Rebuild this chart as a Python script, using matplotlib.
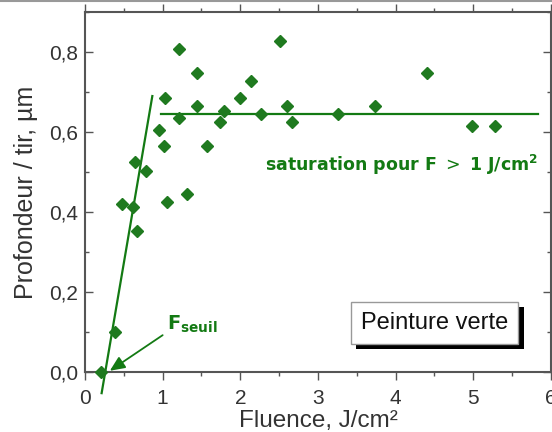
import numpy as np
import matplotlib
matplotlib.use("Agg")
import matplotlib.pyplot as plt
import matplotlib.patheffects as pe
from matplotlib.lines import Line2D
from matplotlib.ticker import MultipleLocator, FuncFormatter

# points mesures (fluence J/cm2, profondeur um)
fluence = [0.20, 0.38, 0.48, 0.62, 0.65, 0.67, 0.79, 0.95, 1.02, 1.03, 1.05,
           1.21, 1.21, 1.31, 1.44, 1.44, 1.57, 1.74, 1.79, 1.99, 2.14, 2.27,
           2.51, 2.60, 2.66, 3.26, 3.74, 4.41, 4.98, 5.28]
profondeur = [0.00, 0.10, 0.42, 0.413, 0.524, 0.353, 0.503, 0.605, 0.566, 0.686, 0.425,
              0.807, 0.635, 0.445, 0.748, 0.666, 0.565, 0.625, 0.652, 0.686, 0.727, 0.645,
              0.827, 0.666, 0.625, 0.646, 0.666, 0.747, 0.615, 0.615]

# droites tracees a la main
montee_x = [0.214, 0.867]
montee_y = [-0.053, 0.69]
sat_x = [0.974, 5.83]
sat_y = [0.645, 0.645]

vert = '#137a13'
gris = '#333333'

plt.rcParams['font.family'] = ['Liberation Sans', 'DejaVu Sans']

fig = plt.figure(figsize=(5.52, 4.32), dpi=100)
ax = fig.add_axes([0.154, 0.139, 0.844, 0.833])

ax.plot(fluence, profondeur, 'D', color='#1f7a1f', markersize=6.5, clip_on=False, zorder=3)
ax.plot(montee_x, montee_y, color=vert, lw=1.6, clip_on=False)
ax.plot(sat_x, sat_y, color=vert, lw=1.6)

ax.set_xlim(0, 6)
ax.set_ylim(0, 0.9)
ax.xaxis.set_major_locator(MultipleLocator(1))
ax.xaxis.set_minor_locator(MultipleLocator(0.5))
ax.yaxis.set_major_locator(MultipleLocator(0.2))
ax.yaxis.set_minor_locator(MultipleLocator(0.1))
ax.yaxis.set_major_formatter(FuncFormatter(lambda v, p: ('%.1f' % v).replace('.', ',')))

ax.tick_params(axis='y', which='both', direction='in', right=True, labelsize=15, labelcolor=gris, pad=5)
ax.tick_params(axis='x', which='both', direction='out', labelsize=15, labelcolor=gris, pad=6)
ax.tick_params(which='major', length=6, width=1, color='#555555')
ax.tick_params(which='minor', length=3, width=1, color='#555555')
ax.tick_params(axis='x', which='both', top=True)
for s in ax.spines.values():
    s.set_color('#555555')
    s.set_linewidth(1.5)

ax.set_xlabel('Fluence, J/cm²', fontsize=17.5, color=gris, labelpad=2)
ax.set_ylabel('Profondeur / tir, µm', fontsize=18, color=gris, labelpad=8)

ax.text(2.32, 0.517, r'saturation pour F $>$ 1 J/cm$^{\mathbf{2}}$', color=vert,
        fontsize=12.5, fontweight='bold', family='DejaVu Sans', va='center')

ax.annotate('', xy=(0.32, 0.003), xytext=(1.0, 0.092),
            arrowprops=dict(arrowstyle='-|>,head_length=0.9,head_width=0.4', color=vert, lw=1.3,
                            shrinkA=0, shrinkB=0))
ax.text(1.05, 0.118, r'$\mathbf{F}_{\mathbf{seuil}}$', color=vert, fontsize=14, va='center')

t = ax.text(4.5, 0.123, 'Peinture verte', fontsize=17, color='#111111', ha='center', va='center',
            bbox=dict(boxstyle='square,pad=0.42', fc='white', ec='#999999', lw=1))
t.get_bbox_patch().set_path_effects([pe.SimplePatchShadow(offset=(4, -4), shadow_rgbFace='black', alpha=1),
                                     pe.Normal()])

fig.add_artist(Line2D([0, 1], [0.997, 0.997], transform=fig.transFigure, color='#999999', lw=1.5))

plt.savefig('out.png', dpi=100)
